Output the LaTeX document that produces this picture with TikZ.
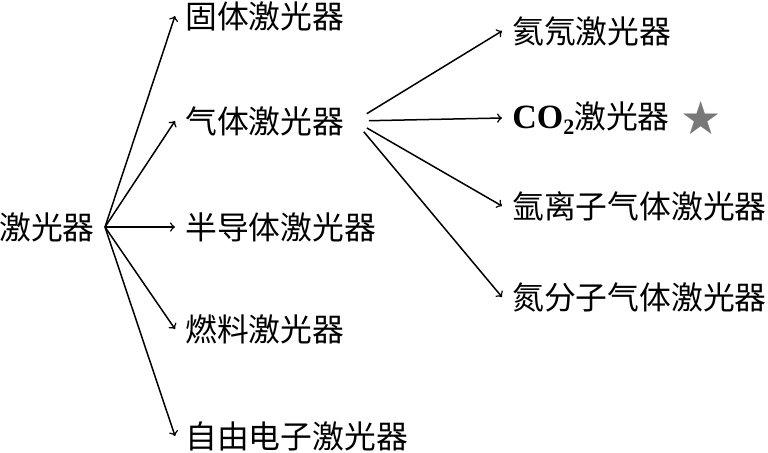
\documentclass[tikz,border=0pt]{standalone}
\usepackage{fontspec}
\setmainfont{Liberation Serif}
\newfontfamily\cjk{Noto Sans CJK SC}
\newfontfamily\symb{DejaVu Sans}
\usetikzlibrary{positioning}
\definecolor{stargray}{RGB}{120,120,120}

\begin{document}
\begin{tikzpicture}[x=0.5pt, y=-0.5pt,
    item/.style={anchor=west, inner xsep=5pt, inner ysep=0pt, font=\cjk\fontsize{15.9pt}{18pt}\selectfont},
    arrow/.style={->, >=to, line width=0.75pt}
]
    \useasboundingbox (0,0) rectangle (768,452);

    \node[item, anchor=east] (laser) at (105,227) {激光器};

    \node[item] (solid) at (175,16) {固体激光器};
    \node[item] (gas) at (175,121) {气体激光器};
    \node[item] (semi) at (175,227) {半导体激光器};
    \node[item] (fuel) at (175,329) {燃料激光器};
    \node[item] (freeel) at (175,436) {自由电子激光器};

    \node[item] (hene) at (502,31) {氦氖激光器};
    \node[item] (co2) at (502,118) {{\rmfamily\bfseries\fontsize{17pt}{18pt}\selectfont CO\raisebox{-0.35ex}{\fontsize{11pt}{12pt}\selectfont 2}}激光器};
    \node[item] (argon) at (502,206) {氩离子气体激光器};
    \node[item] (nitro) at (502,297) {氮分子气体激光器};
    \node[font=\symb\fontsize{23pt}{23pt}\selectfont, text=stargray, inner sep=0pt, right=0pt of co2] (co2star) {★};

    \draw[arrow] (laser.east) -- (solid.west);
    \draw[arrow] (laser.east) -- (gas.west);
    \draw[arrow] (laser.east) -- (semi.west);
    \draw[arrow] (laser.east) -- (fuel.west);
    \draw[arrow] (laser.east) -- (freeel.west);

    \draw[arrow, shorten <=7pt] (gas.east) -- (hene.west);
    \draw[arrow, shorten <=7pt] (gas.east) -- (co2.west);
    \draw[arrow, shorten <=7pt] (gas.east) -- (argon.west);
    \draw[arrow, shorten <=7pt] (gas.east) -- (nitro.west);
\end{tikzpicture}
\end{document}
